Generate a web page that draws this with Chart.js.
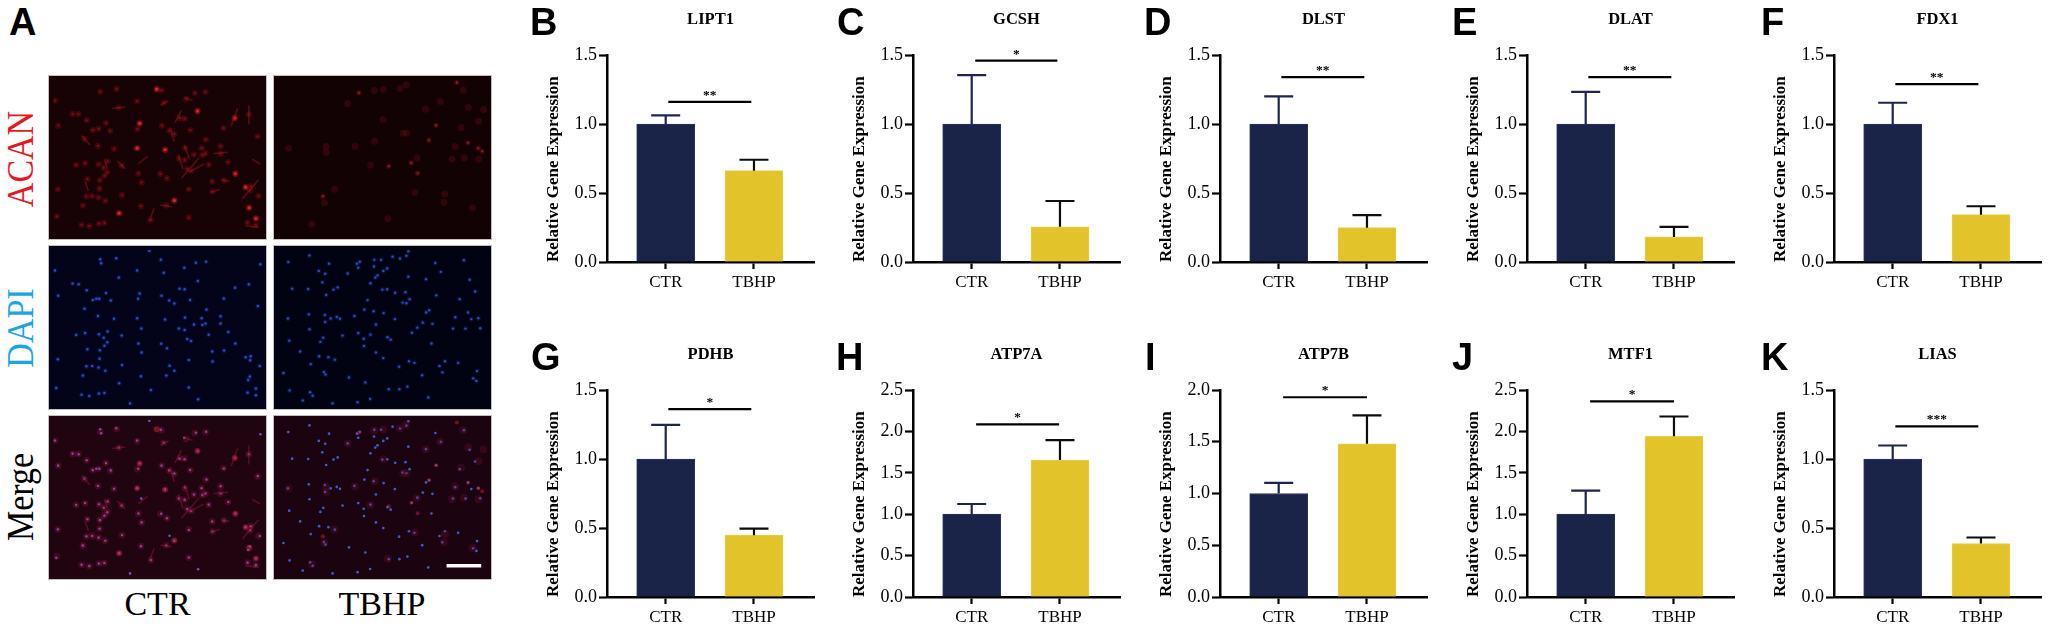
<!DOCTYPE html>
<html><head><meta charset="utf-8">
<script src="https://cdn.jsdelivr.net/npm/chart.js@4"></script>
<style>
html,body{margin:0;padding:0;background:#fff;overflow:hidden}
#page{position:relative;width:2050px;height:631px;overflow:hidden;background:#fff}
canvas{position:absolute;display:block}
.letter{position:absolute;font:bold 38px/1 "Liberation Sans",Arial,sans-serif;color:#000}
.lab{position:absolute;font:34px "Liberation Serif","Times New Roman",serif;white-space:nowrap;line-height:normal}
.micro{outline:1px solid #c4bfbf;filter:blur(0.6px)}
</style></head><body><div id="page"></div>
<script>
const categories=['CTR','TBHP'];
const genes=['LIPT1','GCSH','DLST','DLAT','FDX1','PDHB','ATP7A','ATP7B','MTF1','LIAS'];
const panelLetters=['B','C','D','E','F','G','H','I','J','K'];
const ctrValues=[1,1,1,1,1,1,1,1,1,1];
const tbhpValues=[0.662,0.255,0.249,0.182,0.343,0.448,1.655,1.48,1.94,0.387];
const ctrUpper=[1.063,1.354,1.20,1.233,1.154,1.248,1.123,1.102,1.284,1.098];
const tbhpUpper=[0.741,0.442,0.34,0.255,0.404,0.495,1.895,1.754,2.18,0.431];
const yMaxima=[1.5,1.5,1.5,1.5,1.5,1.5,2.5,2.0,2.5,1.5];
const sigMarks=['**','*','**','**','**','*','*','*','*','***'];
const sigHeights=[1.16,1.459,1.339,1.339,1.289,1.362,2.085,1.93,2.363,1.236];
const sigStart=[0.03,0.04,0.03,0.03,0.03,0.03,0.05,0.05,0.05,0.03];
const sigEnd=[0.97,0.97,0.97,0.97,0.97,0.97,0.99,1.0,1.0,0.97];
const axisX=[606.5,912.5,1220,1527,1834,606.5,912.5,1220,1527,1834];
const letterX=[530,837,1144,1452,1761,531,836,1145,1452,1761];
const yTitle='Relative Gene Expression';
const sideLabels=['ACAN','DAPI','Merge'];
const sideColors=['#e8161e','#1aa5e8','#000'];
const scaleBarX=[525,633];
const scaleBarY=[460,460];

const dapiCtr=[[147,29],[197,26],[150,42],[336,31],[445,40],[477,37],[409,56],[6,65],[262,65],[345,72],[205,87],[451,98],[61,106],[80,108],[610,108],[567,119],[394,122],[410,124],[105,127],[165,136],[270,137],[338,144],[16,144],[265,154],[124,158],[135,154],[144,154],[180,159],[362,159],[427,158],[532,153],[378,169],[638,177],[98,185],[478,188],[140,208],[262,215],[190,217],[349,219],[411,213],[463,215],[522,209],[522,232],[475,232],[465,237],[439,235],[392,248],[275,248],[410,252],[170,257],[100,262],[143,266],[72,268],[214,270],[546,259],[485,267],[158,277],[418,281],[430,287],[169,291],[266,295],[337,296],[568,295],[160,302],[355,310],[107,313],[146,316],[276,323],[496,320],[533,317],[600,338],[616,335],[614,348],[15,345],[145,343],[423,347],[497,352],[215,363],[363,365],[104,367],[122,366],[142,371],[644,366],[163,381],[378,381],[93,396],[274,398],[353,396],[613,399],[608,410],[206,420],[423,434],[305,442],[10,435],[632,437],[606,450],[89,457],[113,461],[143,453],[160,451],[632,458],[452,471],[240,484],[300,2],[646,45]];
const dapiTbhp=[[98,17],[32,38],[159,43],[246,43],[255,37],[300,31],[321,31],[357,21],[380,27],[400,18],[406,4],[490,41],[579,32],[250,56],[299,52],[340,58],[127,66],[147,75],[217,74],[328,66],[310,80],[303,87],[507,69],[406,84],[461,92],[597,94],[138,102],[288,105],[44,122],[94,123],[173,125],[186,118],[325,125],[340,124],[365,135],[397,133],[150,142],[493,143],[614,131],[279,158],[410,155],[388,166],[400,168],[566,155],[269,188],[298,193],[329,199],[471,190],[461,197],[592,197],[96,203],[146,205],[238,208],[183,211],[164,216],[193,217],[31,216],[364,218],[552,212],[602,218],[624,215],[147,227],[451,229],[481,233],[305,235],[434,245],[98,250],[545,248],[584,248],[630,247],[250,262],[417,261],[201,270],[288,267],[341,275],[141,277],[267,280],[351,283],[132,290],[35,286],[478,295],[268,303],[69,320],[305,323],[128,335],[157,338],[328,341],[177,346],[408,351],[425,356],[520,351],[561,356],[102,360],[377,368],[503,366],[17,388],[143,385],[148,393],[512,386],[449,395],[620,382],[221,402],[608,405],[618,413],[272,418],[403,431],[345,439],[378,439],[36,443],[100,449],[108,460],[468,465],[77,475],[287,470],[248,480],[170,484]];
const acanCtr=[[147,37],[198,28],[338,33],[442,41],[475,38],[7,65],[262,67],[345,72],[205,87],[415,60],[61,107],[79,107],[105,127],[610,108],[395,120],[410,122],[165,136],[339,144],[16,144],[263,155],[124,158],[142,154],[178,160],[362,160],[428,158],[531,152],[378,170],[637,178],[98,186],[476,188],[140,208],[190,217],[411,215],[463,215],[522,209],[522,232],[475,232],[465,237],[439,235],[392,248],[410,252],[170,257],[100,263],[143,266],[72,268],[214,270],[545,259],[485,267],[158,277],[418,281],[430,287],[169,291],[266,295],[334,296],[160,302],[355,310],[107,313],[146,316],[276,323],[496,320],[533,317],[616,335],[614,348],[15,345],[145,343],[423,345],[497,352],[215,363],[104,367],[122,366],[142,371],[640,366],[163,381],[93,396],[274,398],[353,396],[423,434],[305,442],[12,430],[606,450],[89,457],[113,461],[143,453],[160,451],[632,458]];
const acanCtrBright=[[323,29],[349,220],[262,215],[566,120],[568,296],[378,380],[611,403],[270,137],[450,98],[632,437],[600,338],[206,420]];
const acanCtrStreaks=[[[185,90],[225,85]],[[400,95],[380,135]],[[610,80],[610,140]],[[575,90],[555,145]],[[365,150],[378,195]],[[410,205],[425,250]],[[390,235],[405,280]],[[400,310],[455,245]],[[425,290],[470,265]],[[500,232],[545,228]],[[90,175],[115,205]],[[200,255],[225,280]],[[265,265],[295,240]],[[590,375],[640,315]],[[600,460],[640,465]],[[525,315],[550,320]],[[490,355],[520,345]],[[335,395],[370,400]],[[300,445],[315,405]],[[410,55],[435,65]],[[335,80],[360,65]],[[100,320],[110,350]],[[160,250],[170,280]],[[620,250],[645,265]]];
const acanTbhpBright=[[140,367],[624,215],[636,225],[252,40],[557,8],[592,198],[415,261],[435,294],[492,143],[345,272],[470,190]];
const acanTbhpFaint=[[460,92],[593,87],[640,93],[33,215],[400,168],[433,246],[517,386],[426,355],[176,345],[145,388],[327,125],[505,68],[552,210],[606,403],[300,33],[380,27],[288,268],[342,438],[105,455],[542,250],[150,228],[301,193],[577,32],[217,74],[399,16],[390,168],[328,30],[240,210],[150,210],[520,360],[580,245],[625,250],[625,130],[570,150]];

const page=document.getElementById('page');
const SERIF='"Liberation Serif","Times New Roman",serif';
Chart.defaults.animation=false;
Chart.defaults.responsive=false;
Chart.defaults.devicePixelRatio=1;
Chart.defaults.font.family=SERIF;
Chart.defaults.color='#000';

function addCanvas(l,t,w,h,cls){
  const c=document.createElement('canvas');
  c.width=w;c.height=h;
  c.style.cssText=`left:${l}px;top:${t}px;width:${w}px;height:${h}px`;
  if(cls)c.className=cls;
  page.appendChild(c);
  return c;
}
function addText(txt,cls,css){
  const d=document.createElement('div');
  d.className=cls;d.textContent=txt;d.style.cssText=css;
  page.appendChild(d);
}

const whiskerPlugin={
  id:'whiskers',
  afterDatasetsDraw(chart,args,opts){
    const {x,y}=chart.scales,ctx=chart.ctx;
    ctx.save();
    ctx.lineWidth=2.2;
    opts.upper.forEach((u,i)=>{
      const px=x.getPixelForValue(i),top=y.getPixelForValue(u),base=y.getPixelForValue(opts.values[i]);
      ctx.strokeStyle=opts.colors[i];
      ctx.beginPath();
      ctx.moveTo(px,base);ctx.lineTo(px,top);
      ctx.moveTo(px-14.5,top);ctx.lineTo(px+14.5,top);
      ctx.stroke();
    });
    const by=y.getPixelForValue(opts.sigY),x0=x.getPixelForValue(opts.sigStart),x1=x.getPixelForValue(opts.sigEnd);
    ctx.strokeStyle='#000';
    ctx.beginPath();ctx.moveTo(x0,by);ctx.lineTo(x1,by);ctx.stroke();
    ctx.fillStyle='#000';
    ctx.font='bold 13.5px '+SERIF;
    ctx.textAlign='center';ctx.textBaseline='alphabetic';
    ctx.fillText(opts.mark,(x0+x1)/2,by-3);
    ctx.restore();
  }
};

genes.forEach((gene,g)=>{
  const row=g<5?0:1;
  const axis=axisX[g];
  const top=row===0?5:340;
  const cv=addCanvas(axis-66,top,277,292);
  new Chart(cv,{
    type:'bar',
    data:{datasets:[{
      data:[{x:0,y:ctrValues[g]},{x:1,y:tbhpValues[g]}],
      backgroundColor:['#1a2348','#e2c329'],
      borderColor:['#2b3562','#e9cf4a'],
      borderWidth:1,
      barThickness:58
    }]},
    options:{
      layout:{padding:{left:0,right:4,top:0,bottom:0}},
      plugins:{
        legend:{display:false},
        tooltip:{enabled:false},
        title:{display:true,text:gene,fullSize:false,color:'#000',
          font:{family:SERIF,size:16.5,weight:'bold',lineHeight:'20px'},
          padding:{top:5,bottom:25}},
        whiskers:{values:[ctrValues[g],tbhpValues[g]],upper:[ctrUpper[g],tbhpUpper[g]],
          colors:['#1c2650','#0d0d0d'],sigY:sigHeights[g],sigStart:sigStart[g],sigEnd:sigEnd[g],mark:sigMarks[g]}
      },
      scales:{
        x:{type:'linear',offset:false,min:-0.665,max:1.68,
          afterBuildTicks(s){s.ticks=[{value:0},{value:1}];},
          afterFit(s){s.height=35;},
          grid:{offset:false,drawOnChartArea:false,tickLength:7,tickWidth:2.2,tickColor:'#000'},
          border:{color:'#000',width:2.5},
          ticks:{autoSkip:false,maxRotation:0,padding:3,color:'#000',font:{family:SERIF,size:17},
            callback:v=>categories[v]}},
        y:{min:0,max:yMaxima[g],
          afterFit(s){s.width=66;},
          grid:{drawOnChartArea:false,tickLength:8,tickWidth:2.2,tickColor:'#000'},
          border:{color:'#000',width:2.5},
          title:{display:true,text:yTitle,align:'start',color:'#000',
            font:{family:SERIF,size:17,weight:'bold',lineHeight:1.2},padding:{top:2,bottom:0}},
          ticks:{stepSize:0.5,padding:2,color:'#000',font:{family:SERIF,size:18},
            callback:v=>v.toFixed(1)}}
      }
    },
    plugins:[whiskerPlugin]
  });
  addText(panelLetters[g],'letter',`left:${letterX[g]}px;top:${row===0?3:338}px`);
});
addText('A','letter','left:9px;top:3px');

/* micrographs */
const asPts=a=>a.map(p=>({x:p[0],y:p[1]}));
function dots(arr,color,r){return {data:asPts(arr),backgroundColor:color,borderWidth:0,pointRadius:r,showLine:false};}
function streaks(arr,color,w){return arr.map(s=>({data:asPts(s),borderColor:color,borderWidth:w,pointRadius:0,showLine:true}));}
function micro(left,top,bg,datasets){
  const c=addCanvas(left,top,217,163,'micro');
  c.style.background=bg;
  new Chart(c,{type:'scatter',data:{datasets},options:{
    layout:{padding:0},
    plugins:{legend:{display:false},tooltip:{enabled:false}},
    scales:{x:{type:'linear',display:false,min:0,max:651},y:{type:'linear',display:false,min:0,max:489,reverse:true}}
  }});
}
micro(49,76,'#170205',[
  ...streaks(acanCtrStreaks,'rgba(150,22,30,0.5)',1.6),
  dots(acanCtr,'rgba(150,18,28,0.3)',3.2),dots(acanCtr,'rgba(190,28,36,0.6)',1.1),
  dots(acanCtrBright,'rgba(200,24,34,0.45)',3.2),dots(acanCtrBright,'#ee2a32',1.6)]);
micro(274,76,'#130204',[dots(acanTbhpFaint,'rgba(95,12,20,0.4)',3.5),dots(acanTbhpBright,'rgba(130,18,26,0.4)',2.6),dots(acanTbhpBright,'#c8222a',1)]);
micro(49,246,'#03031a',[dots(dapiCtr,'rgba(40,70,190,0.2)',2.6),dots(dapiCtr,'#2a50c0',1.25)]);
micro(274,246,'#020312',[dots(dapiTbhp,'rgba(40,70,190,0.18)',2.6),dots(dapiTbhp,'#2a50bc',1.2)]);
micro(49,416,'#20040f',[
  ...streaks(acanCtrStreaks,'rgba(140,24,50,0.5)',1.6),
  dots(acanCtr,'rgba(170,26,60,0.28)',3.4),dots(acanCtrBright,'rgba(215,30,60,0.5)',3),dots(dapiCtr,'#6d52c8',1.3)]);
micro(274,416,'#1b0410',[dots(acanTbhpFaint,'rgba(110,16,40,0.32)',4),dots(acanTbhpBright,'rgba(200,30,40,0.5)',2),dots(dapiTbhp,'#3a5ed0',1.35),
  {data:scaleBarX.map((x,i)=>({x,y:scaleBarY[i]})),borderColor:'#fff',borderWidth:3.5,pointRadius:0,showLine:true}]);

[158.5,327.5,497].forEach((cy,i)=>{
  addText(sideLabels[i],'lab',`left:20.5px;top:${cy}px;color:${sideColors[i]};transform:translate(-50%,-50%) rotate(-90deg) scaleY(1.12)`);
});
[[157.5,'CTR'],[382,'TBHP']].forEach(([cx,t])=>{
  addText(t,'lab',`left:${cx}px;top:604px;color:#000;transform:translate(-50%,-50%)`);
});
</script></body></html>
